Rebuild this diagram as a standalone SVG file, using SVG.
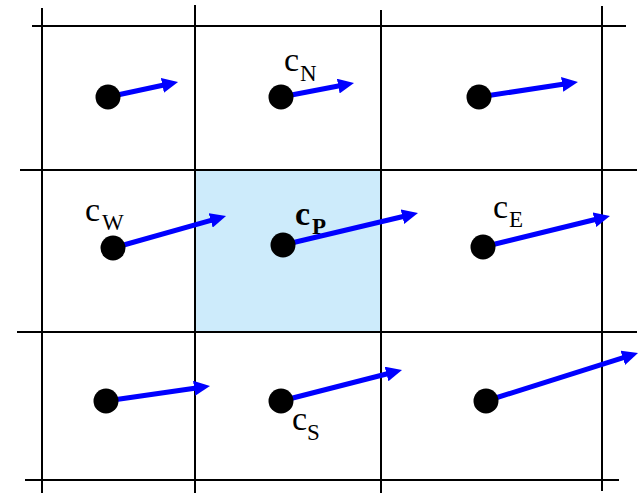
<svg xmlns="http://www.w3.org/2000/svg" width="644" height="493" viewBox="0 0 644 493">
<style>
.grid{stroke:#000;stroke-width:2;fill:none}
.dot{fill:#000}
.vec{stroke:#0000ff;stroke-width:5;fill:none;marker-end:url(#ah)}
.lab{font-family:"Liberation Serif","Times New Roman",serif;fill:#000}
.c{font-size:34px}
.sub{font-size:23px}
.b{font-weight:bold}
</style>
<defs>
<marker id="ah" markerUnits="userSpaceOnUse" markerWidth="17" markerHeight="15" refX="4" refY="7.5" orient="auto" viewBox="0 0 17 15">
<path d="M0,0 L16,7.5 L0,15 z" fill="#0000ff"/>
</marker>
</defs>
<rect x="0" y="0" width="644" height="493" fill="#fff"/>
<g id="cellP-bg"><rect x="195" y="170" width="186" height="162" fill="#cdebfb"/></g>
<g id="grid">
<line class="grid" x1="42" y1="8" x2="42" y2="493"/>
<line class="grid" x1="195" y1="5" x2="195" y2="493"/>
<line class="grid" x1="381" y1="10" x2="381" y2="493"/>
<line class="grid" x1="602" y1="6" x2="602" y2="491"/>
<line class="grid" x1="32" y1="26" x2="626" y2="26"/>
<line class="grid" x1="20" y1="170" x2="637" y2="170"/>
<line class="grid" x1="17" y1="332" x2="637" y2="332"/>
<line class="grid" x1="25" y1="480" x2="619" y2="480"/>
</g>
<g id="connectors">
<line class="vec" x1="108" y1="97" x2="166.3" y2="84.5"/>
<line class="vec" x1="281" y1="97" x2="342.2" y2="85.3"/>
<line class="vec" x1="479" y1="97" x2="566.1" y2="83.8"/>
<line class="vec" x1="113" y1="248" x2="214.5" y2="219.3"/>
<line class="vec" x1="283" y1="245" x2="406.3" y2="215.8"/>
<line class="vec" x1="483" y1="247" x2="598.3" y2="218.8"/>
<line class="vec" x1="106" y1="401" x2="198.1" y2="387.7"/>
<line class="vec" x1="281" y1="401" x2="390.4" y2="373.0"/>
<line class="vec" x1="486" y1="401" x2="626.6" y2="356.6"/>
</g>
<g id="nodeNW"><circle class="dot" cx="108" cy="97" r="12.5"/></g>
<g id="nodeN"><circle class="dot" cx="281" cy="97" r="12.5"/>
<text class="lab" x="284" y="71"><tspan class="c">c</tspan><tspan class="sub" x="300" y="81">N</tspan></text></g>
<g id="nodeNE"><circle class="dot" cx="479" cy="97" r="12.5"/></g>
<g id="nodeW"><circle class="dot" cx="113" cy="248" r="12.5"/>
<text class="lab" x="85" y="221"><tspan class="c">c</tspan><tspan class="sub" x="102" y="230">W</tspan></text></g>
<g id="nodeP"><circle class="dot" cx="283" cy="245" r="12.5"/>
<text class="lab b" x="295" y="225"><tspan class="c">c</tspan><tspan class="sub" x="312" y="234">P</tspan></text></g>
<g id="nodeE"><circle class="dot" cx="483" cy="247" r="12.5"/>
<text class="lab" x="493" y="218"><tspan class="c">c</tspan><tspan class="sub" x="509" y="227">E</tspan></text></g>
<g id="nodeSW"><circle class="dot" cx="106" cy="401" r="12.5"/></g>
<g id="nodeS"><circle class="dot" cx="281" cy="401" r="12.5"/>
<text class="lab" x="292" y="430"><tspan class="c">c</tspan><tspan class="sub" x="307" y="440">S</tspan></text></g>
<g id="nodeSE"><circle class="dot" cx="486" cy="401" r="12.5"/></g>
</svg>
